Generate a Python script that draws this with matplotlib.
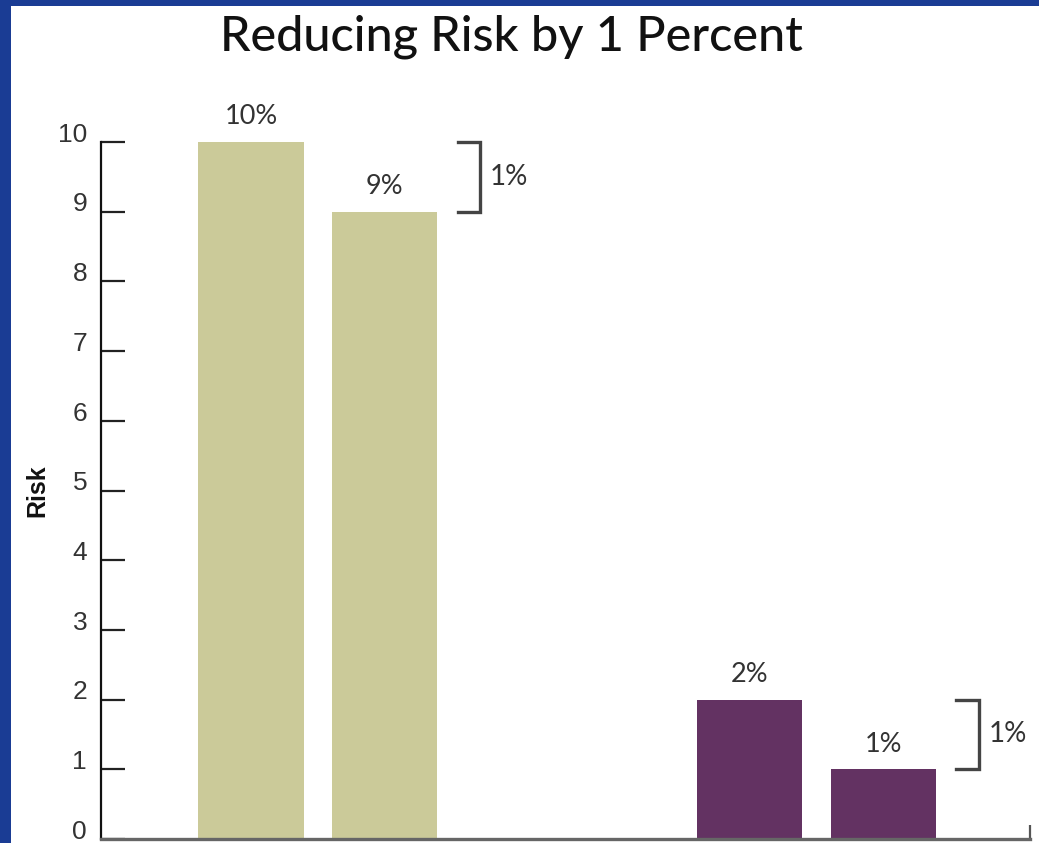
import matplotlib
matplotlib.use("Agg")
import matplotlib.pyplot as plt
import matplotlib.transforms as mtransforms
from matplotlib.patches import Rectangle
import numpy as np

# ---- data ----
title = "Reducing Risk by 1 Percent"
ylabel = "Risk"
group_positions = [0.0, 1.0]
before_values = [10, 2]
after_values = [9, 1]
before_labels = ["10%", "2%"]
after_labels = ["9%", "1%"]
diff_labels = ["1%", "1%"]
group_colors = ["#cbca99", "#633262"]
yticks = [0, 1, 2, 3, 4, 5, 6, 7, 8, 9, 10]

W, H = 1039, 843
fig = plt.figure(figsize=(W / 100, H / 100), dpi=100)
fig.patch.set_facecolor("#1a3c94")
fig.patches.append(Rectangle((11 / W, 0), 1 - 11 / W, (H - 6) / H,
                             transform=fig.transFigure, facecolor="white",
                             edgecolor="none", zorder=-5))

ax = fig.add_axes([101 / W, 4 / H, (1030 - 101) / W, (839 - 142) / H])
ax.set_facecolor("none")
ax.set_zorder(2)

bar_w = 0.211
offset = 0.134
for g, b, a, bl, al, dl, c in zip(group_positions, before_values, after_values,
                                  before_labels, after_labels, diff_labels, group_colors):
    ax.bar([g - offset, g + offset], [b, a], width=bar_w, color=c, zorder=2)
    for xx, v, lab in [(g - offset, b, bl), (g + offset, a, al)]:
        ax.annotate(lab, (xx, v), xytext=(0, 9), textcoords="offset points",
                    ha="center", va="bottom", fontsize=19.5, family="Lato",
                    color="#333333")
    # bracket
    bx0, bx1 = g + 0.28, g + 0.326
    ax.plot([bx0, bx1, bx1, bx0], [b, b, a, a], color="#444444", lw=2.4,
            solid_joinstyle="miter", clip_on=False, zorder=3)
    ax.text(g + 0.345, (a + b) / 2, dl, ha="left", va="center", fontsize=20,
            family="Lato", color="#333333", clip_on=False)

ax.set_xlim(-0.435, 1.428)
ax.set_ylim(0, 10)
ax.set_yticks(yticks)
ax.set_xticks([1.428])
ax.set_xticklabels([])
ax.tick_params(axis="y", direction="in", length=17, width=1.6, colors="#222222",
               labelsize=19, labelcolor="#333333", pad=10)
ax.tick_params(axis="x", direction="in", length=10, width=1.6, colors="#555555")
for lab in ax.get_yticklabels():
    lab.set_family("Liberation Sans")
    lab.set_transform(lab.get_transform() +
                      mtransforms.ScaledTranslation(0, 7 / 72, fig.dpi_scale_trans))

for s in ["top", "right"]:
    ax.spines[s].set_visible(False)
ax.spines["left"].set_linewidth(1.6)
ax.spines["left"].set_color("#111111")
ax.spines["bottom"].set_linewidth(2.4)
ax.spines["bottom"].set_color("#666666")

ax.set_ylabel(ylabel, fontsize=18, family="Liberation Sans", color="#111111",
              weight="bold", va="center")
ax.yaxis.set_label_coords(-64 / (1030 - 101), 0.5)

fig.text(511 / W, 1 - 37 / H, title, ha="center", va="center", fontsize=35,
         family="Lato", weight="medium", color="#111111")

fig.savefig("out.png", dpi=100, facecolor=fig.get_facecolor())
